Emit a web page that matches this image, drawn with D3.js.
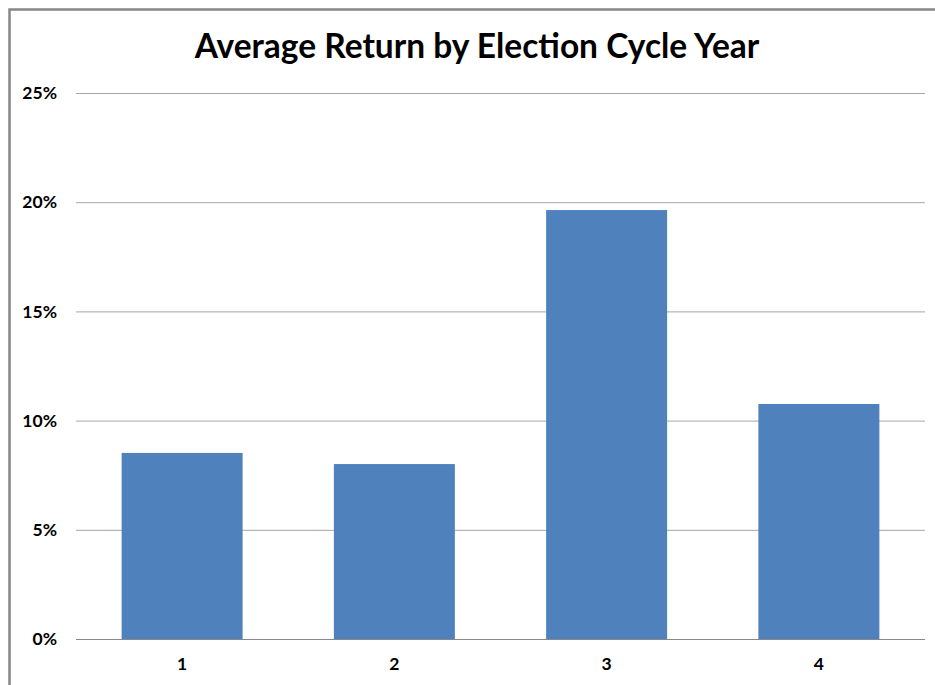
<!DOCTYPE html>
<html><head><meta charset="utf-8">
<script src="https://cdn.jsdelivr.net/npm/d3@7"></script>
<style>body{margin:0;background:#fff}svg{display:block}</style>
</head><body>
<svg id="chart" width="935" height="685"></svg>
<script>
const categories = ["1","2","3","4"];
const values = [8.52, 8.01, 19.64, 10.76];
const yTicks = [0,5,10,15,20,25];
const title = "Average Return by Election Cycle Year";

const svg = d3.select("#chart");
const font = "Lato, 'Open Sans', sans-serif";
// frame
svg.append("path").attr("d","M9.5,690 V9.5 H940").attr("fill","none").attr("stroke","#878787").attr("stroke-width",2.5);

const x = d3.scaleBand().domain(categories).range([76,925]).paddingInner(0.43).paddingOuter(0.215);
const y = d3.scaleLinear().domain([0,25]).range([639,93]);

const gy = svg.append("g").attr("transform","translate(76,0)")
  .call(d3.axisLeft(y).tickValues(yTicks).tickSize(-849).tickFormat(d=>d+"%").tickPadding(19));
gy.select(".domain").remove();
gy.selectAll(".tick line").attr("stroke","#a6a6a6").attr("stroke-width",1);
gy.selectAll(".tick text").attr("font-family",font).attr("font-weight","bold").attr("font-size",17.5).attr("fill","#000");

svg.selectAll("rect.bar").data(values).enter().append("rect").attr("class","bar")
  .attr("x",(d,i)=>x(categories[i])).attr("width",x.bandwidth())
  .attr("y",d=>y(d)).attr("height",d=>y(0)-y(d)).attr("fill","#4f81bd");

const gx = svg.append("g").attr("transform","translate(0,639)")
  .call(d3.axisBottom(x).tickSize(0).tickPadding(19));
gx.select(".domain").attr("stroke","#888").attr("d","M76,0.5H925");
gx.selectAll(".tick text").attr("font-family",font).attr("font-weight","bold").attr("font-size",17.5).attr("fill","#000");

svg.append("text").attr("x",477).attr("y",58).attr("text-anchor","middle")
  .attr("font-family",font).attr("font-weight","bold").attr("font-size",33.5).text(title);
</script>
</body></html>
